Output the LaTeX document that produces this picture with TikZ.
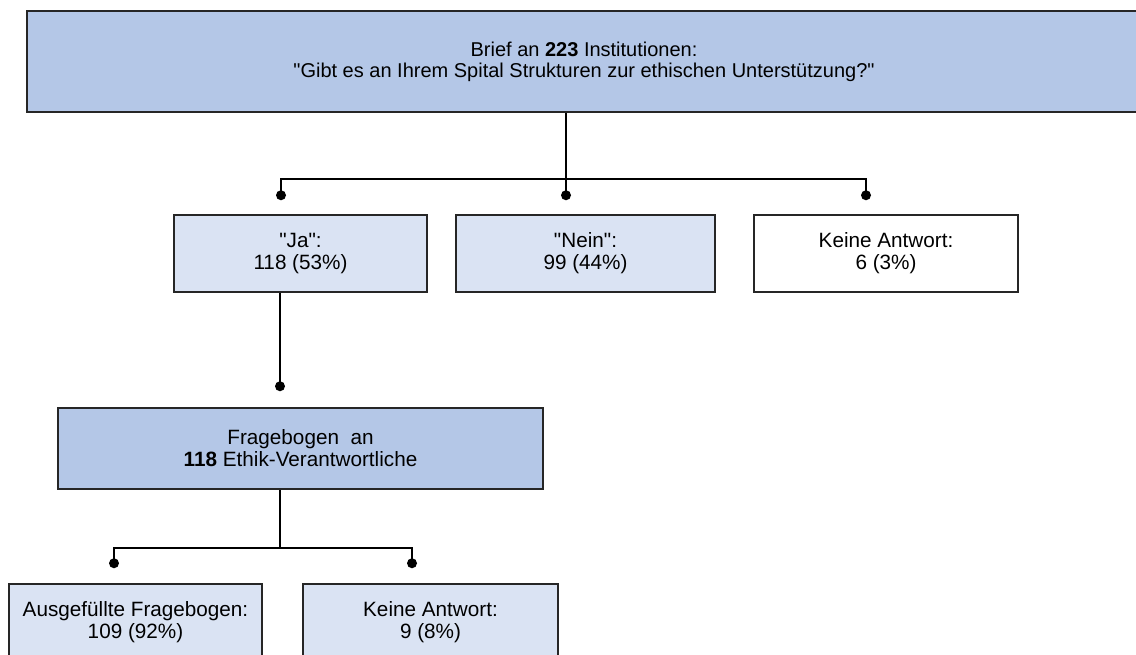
\documentclass[tikz,border=0pt]{standalone}
\usepackage{fontspec}
\setmainfont{Liberation Sans}[Ligatures=TeXOff]
\usetikzlibrary{positioning,calc}

\definecolor{topblue}{HTML}{B4C7E7}
\definecolor{paleblue}{HTML}{DAE3F3}

\tikzset{
    box/.style={draw=black!85, line width=1.5pt, fill=#1, align=center,
        inner sep=0pt, font=\fontsize{20.7}{22}\selectfont},
    box/.default=white,
    link/.style={line width=1.6pt},
    dot/.style={circle, fill=black, inner sep=0pt, minimum size=10pt}
}

\begin{document}
\begin{tikzpicture}[x=1pt,y=-1pt]
    \useasboundingbox (0,0) rectangle (1136,654);

    % Letter to the institutions
    \node[box=topblue, minimum width=1114pt, minimum height=101pt,
        font=\fontsize{20}{21}\selectfont] (brief) at (584,61.5)
        {Brief an \textbf{223} Institutionen:\\"Gibt es an Ihrem Spital Strukturen zur ethischen Unterstützung?"};

    % Answers
    \node[box=paleblue, minimum width=253pt, minimum height=77pt] (ja) at (300.5,253.5)
        {"Ja":\\118 (53\%)};
    \node[box=paleblue, minimum width=259pt, minimum height=77pt] (nein) at (585.5,253.5)
        {"Nein":\\99 (44\%)};
    \node[box, minimum width=264pt, minimum height=77pt] (keine) at (886,253.5)
        {Keine Antwort:\\6 (3\%)};

    \draw[link] ([xshift=-18pt]brief.south) -- ++(0,66) coordinate (bus);
    \foreach \n/\dx in {ja/-19.5, nein/-19.5, keine/-20}
        \draw[link] (bus) -| ([xshift=\dx pt,yshift=19pt]\n.north) node[dot] {};

    % Questionnaire
    \node[box=topblue, minimum width=485pt, minimum height=81pt] (frage) at (300.5,448.5)
        {Fragebogen~ an\\\textbf{118} Ethik-Verantwortliche};
    \draw[link] ([xshift=-20.5pt]ja.south) -- ([xshift=-20.5pt,yshift=21pt]frage.north) node[dot] {};

    % Returns
    \node[box=paleblue, minimum width=253pt, minimum height=77pt] (filled) at (135.5,622.5)
        {Ausgefüllte Fragebogen:\\109 (92\%)};
    \node[box=paleblue, minimum width=255pt, minimum height=77pt] (none) at (430.5,622.5)
        {Keine Antwort:\\9 (8\%)};

    \draw[link] ([xshift=-20.5pt]frage.south) -- ++(0,58) coordinate (bus2);
    \draw[link] (bus2) -| ([xshift=-21.5pt,yshift=20pt]filled.north) node[dot] {};
    \draw[link] (bus2) -| ([xshift=-18.5pt,yshift=20pt]none.north) node[dot] {};
\end{tikzpicture}
\end{document}
